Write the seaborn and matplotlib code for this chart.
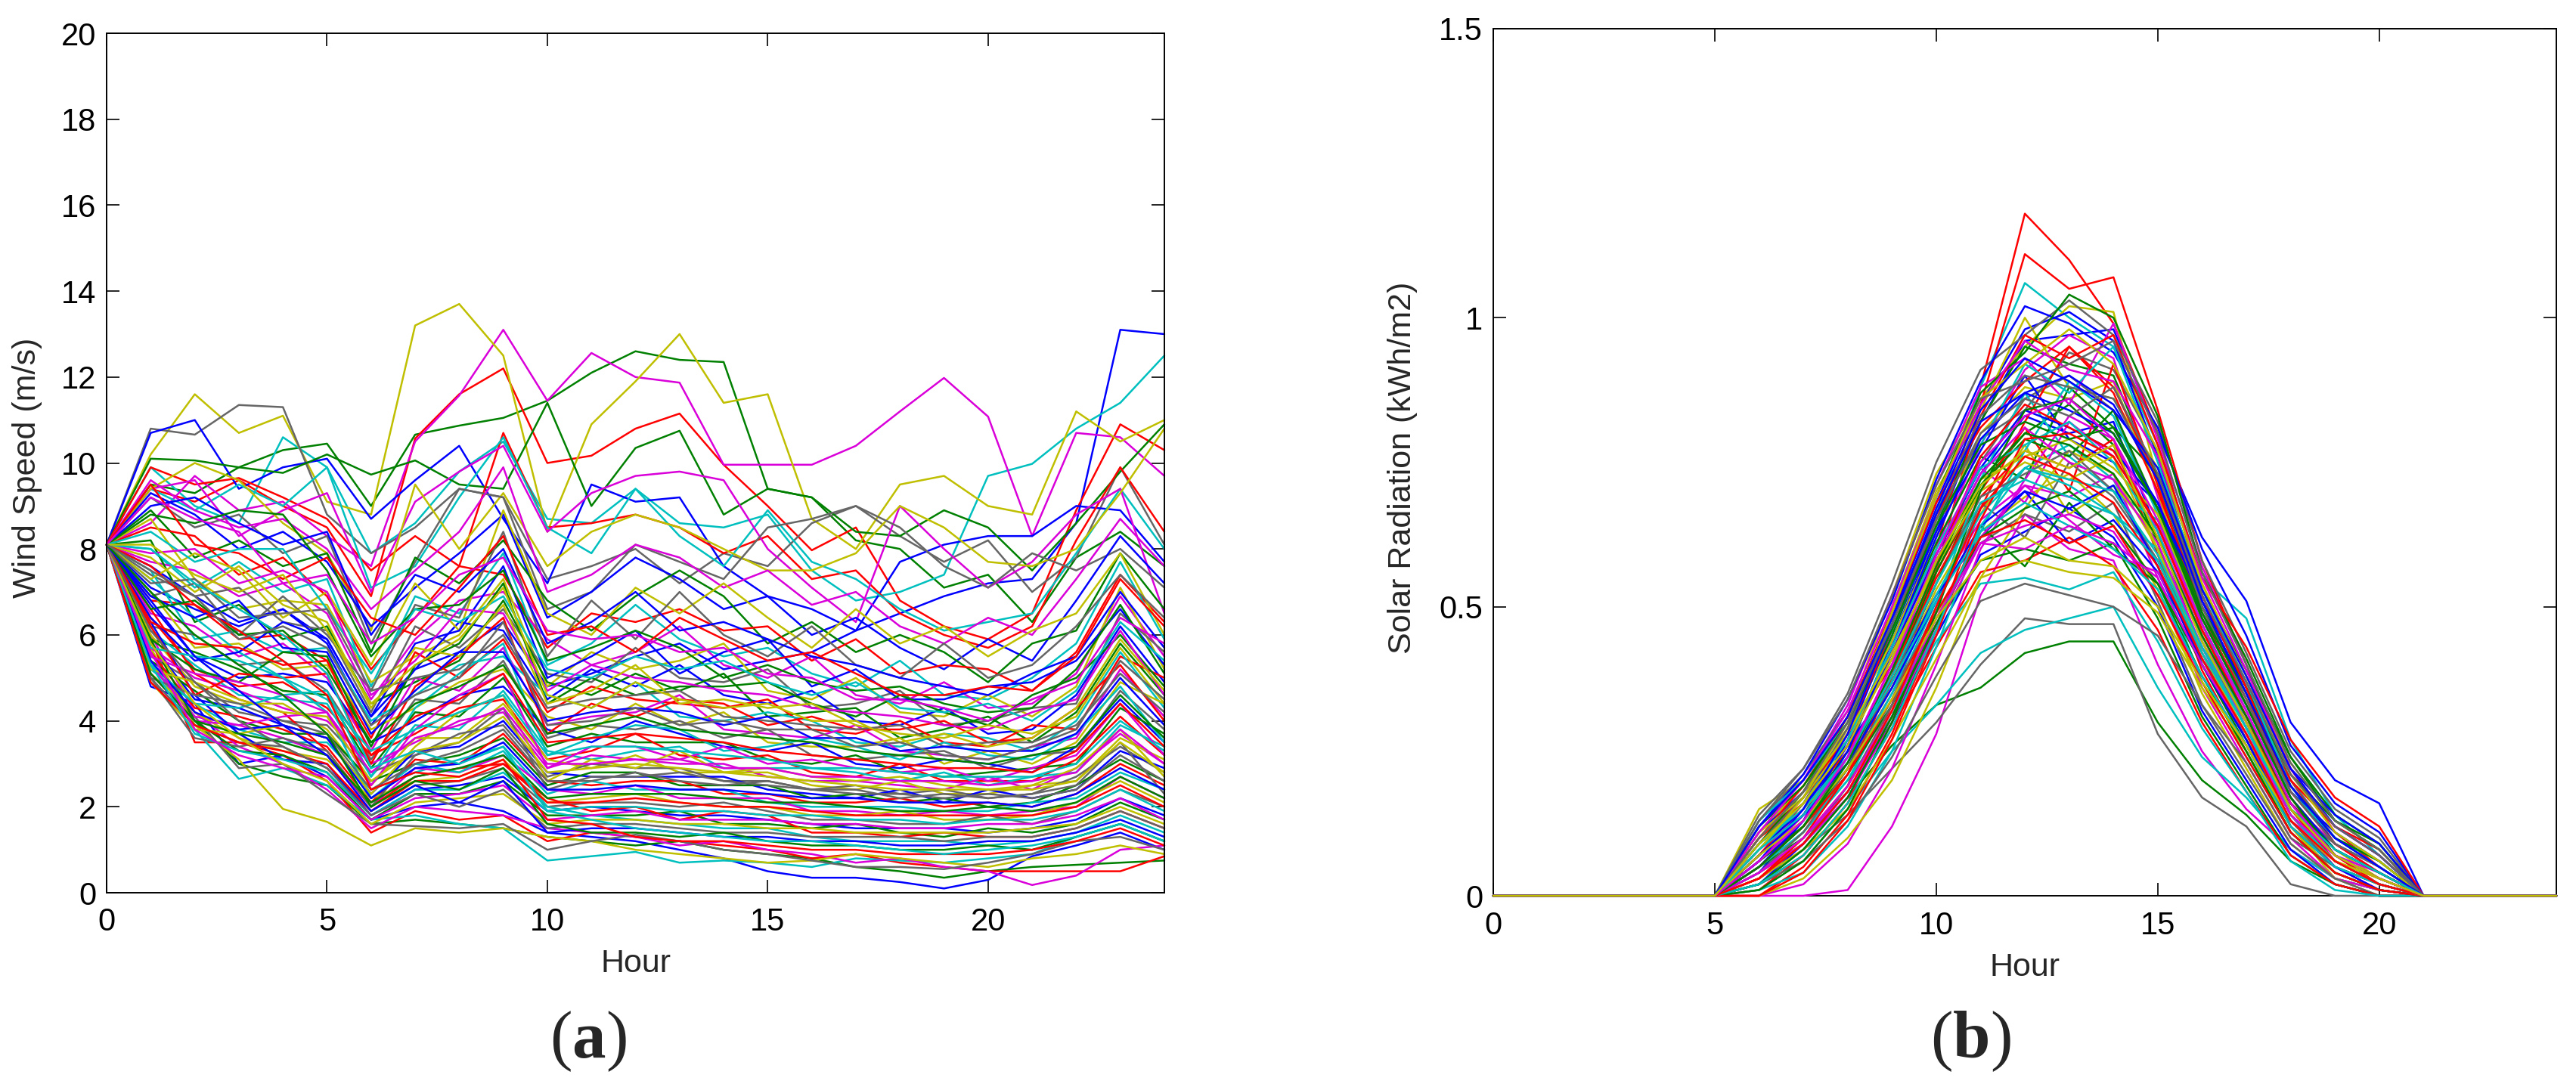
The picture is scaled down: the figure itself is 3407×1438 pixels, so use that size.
import numpy as np
import pandas as pd
import matplotlib
matplotlib.use('Agg')
import matplotlib.pyplot as plt
import seaborn as sns

# hours of the day
hours = list(range(25))
solar_hours = list(range(5, 22))   # solar is zero outside 5..21

# wind speed scenarios (m/s), hours 0..24
wind_outliers = [
    [8.1, 7.6, 6.9, 6.3, 6.6, 5.9, 4.1, 5.2, 5.6, 6.3, 4.8, 5.1, 5.5, 5.8, 5.2, 5.4, 5.6, 6.1, 6.5, 6.9, 7.2, 7.3, 8.6, 13.1, 13.0],
    [8.1, 9.5, 9.3, 9.9, 10.3, 10.45, 9.0, 10.66, 10.87, 11.05, 11.45, 12.1, 12.6, 12.4, 12.35, 9.4, 9.2, 8.2, 8.0, 7.1, 7.4, 6.3, 7.8, 8.4, 7.6],
    [8.1, 9.4, 9.1, 9.6, 9.0, 8.5, 6.9, 10.57, 11.6, 12.2, 10.0, 10.17, 10.8, 11.15, 9.96, 9.0, 7.97, 8.5, 6.8, 6.2, 5.9, 6.5, 8.9, 10.9, 10.3],
    [8.1, 9.9, 9.0, 8.6, 10.6, 9.9, 7.9, 8.6, 9.8, 10.5, 8.7, 8.6, 9.4, 8.6, 8.5, 8.8, 7.5, 6.8, 7.0, 7.4, 9.7, 9.98, 10.8, 11.4, 12.5],
    [8.1, 8.6, 9.7, 8.9, 9.1, 8.3, 7.6, 10.5, 11.57, 13.1, 11.45, 12.56, 12.0, 11.87, 9.96, 9.96, 9.96, 10.4, 11.2, 11.98, 11.08, 8.3, 10.7, 10.6, 9.7],
    [8.1, 10.2, 11.6, 10.7, 11.1, 9.1, 8.8, 13.2, 13.7, 12.5, 8.4, 10.9, 11.9, 13.0, 11.4, 11.6, 8.7, 8.0, 9.5, 9.7, 9.0, 8.8, 11.2, 10.5, 11.0],
    [8.1, 10.8, 10.66, 11.35, 11.3, 8.8, 7.9, 8.5, 9.4, 9.2, 7.3, 7.6, 8.0, 7.2, 7.9, 7.6, 8.6, 9.0, 8.3, 7.7, 8.2, 7.0, 7.8, 9.9, 8.1],
    [8.1, 10.7, 11.0, 9.4, 9.9, 10.1, 8.7, 9.6, 10.4, 8.7, 7.2, 9.5, 9.1, 9.2, 7.6, 6.9, 6.6, 6.1, 7.7, 8.1, 8.3, 8.3, 9.0, 8.9, 7.7],
    [8.1, 10.1, 10.06, 9.9, 9.77, 10.2, 9.73, 10.06, 9.5, 9.4, 11.4, 9.0, 10.35, 10.75, 8.8, 9.4, 9.2, 8.4, 8.3, 8.9, 8.5, 7.5, 8.6, 9.8, 10.9],
    [8.1, 9.9, 9.5, 9.65, 9.2, 8.7, 7.5, 8.3, 7.6, 10.7, 8.5, 8.6, 8.8, 8.5, 7.9, 8.3, 7.3, 7.5, 6.5, 6.0, 5.7, 6.2, 8.2, 9.9, 8.4],
    [8.1, 9.4, 8.9, 9.5, 9.0, 9.9, 7.1, 7.6, 9.2, 10.6, 8.5, 7.9, 9.4, 8.3, 7.6, 8.9, 7.7, 7.3, 6.6, 6.1, 6.3, 6.5, 7.9, 9.4, 8.0],
    [8.1, 9.4, 9.6, 8.3, 8.9, 9.3, 7.0, 9.1, 9.8, 10.4, 8.4, 9.3, 9.7, 9.8, 9.6, 8.0, 7.1, 6.3, 9.0, 8.0, 7.1, 7.7, 8.8, 9.4, 6.5],
    [8.1, 9.4, 10.0, 9.6, 8.6, 7.9, 6.1, 9.5, 8.0, 9.3, 7.6, 8.4, 8.8, 8.5, 8.0, 7.5, 7.5, 7.9, 9.0, 8.5, 7.7, 7.6, 8.0, 9.3, 10.8],
    [8.1, 9.2, 8.5, 8.8, 7.9, 8.3, 5.8, 7.7, 9.4, 9.2, 6.6, 7.0, 8.1, 7.7, 7.3, 8.5, 8.7, 9.0, 8.5, 7.6, 7.1, 7.9, 7.5, 8.0, 7.1],
    [8.1, 4.8, 4.4, 3.0, 3.2, 2.7, 1.7, 2.0, 2.1, 1.9, 1.4, 1.3, 1.2, 1.0, 0.8, 0.5, 0.35, 0.35, 0.25, 0.1, 0.3, 0.85, 1.1, 1.4, 1.0],
    [8.1, 5.6, 4.0, 3.0, 2.7, 2.5, 1.6, 1.7, 1.6, 1.5, 1.3, 1.2, 1.1, 1.2, 1.0, 0.9, 0.8, 0.6, 0.5, 0.35, 0.5, 0.6, 0.65, 0.7, 0.75],
    [8.1, 5.9, 3.5, 3.5, 3.2, 2.6, 1.4, 1.9, 1.7, 1.8, 1.2, 1.4, 1.3, 1.2, 1.1, 1.0, 0.8, 0.9, 0.7, 0.6, 0.5, 0.5, 0.5, 0.5, 0.85],
    [8.1, 5.4, 3.8, 2.65, 2.9, 2.5, 1.7, 1.8, 1.6, 1.5, 0.75, 0.85, 0.95, 0.7, 0.75, 0.7, 0.6, 0.8, 0.75, 0.7, 0.8, 0.9, 1.3, 1.6, 1.2],
    [8.1, 6.0, 4.2, 3.4, 3.0, 2.4, 1.5, 2.0, 1.9, 1.8, 1.5, 1.4, 1.3, 1.1, 1.2, 1.0, 0.9, 0.7, 0.8, 0.6, 0.5, 0.18, 0.4, 1.0, 1.1],
    [8.1, 5.7, 3.9, 3.1, 1.95, 1.65, 1.1, 1.5, 1.4, 1.5, 1.3, 1.2, 1.0, 0.9, 0.8, 0.7, 0.75, 0.9, 0.8, 0.7, 0.6, 0.8, 0.9, 1.1, 0.9],
    [8.1, 5.3, 4.1, 2.9, 3.0, 2.3, 1.6, 1.55, 1.5, 1.6, 1.0, 1.2, 1.35, 1.2, 1.0, 0.9, 0.75, 0.6, 0.6, 0.55, 0.7, 0.9, 1.2, 1.3, 1.0],
]

wind_band = [
    [8.1, 9.3, 8.8, 8.0, 8.4, 7.7, 6.2, 7.1, 7.9, 8.8, 6.4, 7.0, 7.8, 7.3, 6.6, 6.9, 6.0, 6.4, 5.7, 5.2, 5.9, 5.4, 6.8, 8.3, 7.2],
    [8.1, 8.9, 7.8, 8.2, 7.6, 7.9, 5.6, 7.8, 7.2, 8.2, 6.8, 6.1, 6.9, 7.5, 6.9, 5.8, 6.3, 5.6, 6.0, 5.6, 4.9, 5.8, 6.1, 7.9, 6.6],
    [8.1, 8.5, 8.3, 7.4, 7.8, 6.9, 5.2, 6.4, 7.6, 7.4, 5.7, 6.5, 6.3, 6.6, 6.1, 6.2, 5.4, 5.9, 5.1, 5.3, 5.2, 4.7, 5.6, 7.4, 6.3],
    [8.1, 8.0, 7.1, 7.7, 7.0, 7.3, 4.8, 6.9, 6.5, 7.9, 5.3, 5.8, 6.7, 5.9, 5.5, 5.7, 5.1, 4.8, 5.4, 4.6, 4.5, 5.0, 5.8, 7.7, 5.9],
    [8.1, 7.7, 7.5, 6.9, 7.2, 6.5, 4.5, 5.9, 6.8, 7.0, 5.9, 5.3, 5.6, 6.2, 5.3, 5.0, 5.5, 4.6, 4.4, 4.9, 4.3, 4.4, 5.1, 6.9, 5.5],
    [8.1, 8.7, 7.3, 6.6, 6.8, 6.7, 4.9, 5.5, 6.0, 7.3, 4.8, 5.6, 5.2, 5.4, 5.8, 4.7, 4.5, 5.0, 4.2, 4.1, 4.6, 4.1, 4.8, 7.1, 5.2],
    [8.1, 7.4, 6.9, 7.1, 6.3, 6.1, 4.2, 6.2, 5.7, 6.6, 5.1, 4.9, 5.7, 5.0, 4.9, 5.2, 4.3, 4.4, 4.7, 3.9, 4.0, 4.3, 4.4, 6.5, 5.6],
    [8.1, 7.1, 6.6, 6.2, 6.6, 5.8, 3.9, 5.2, 6.3, 6.1, 4.5, 5.2, 4.8, 5.3, 4.6, 4.4, 4.7, 4.0, 3.9, 4.3, 3.7, 3.8, 4.6, 6.2, 4.9],
    [8.1, 8.2, 6.3, 6.7, 5.9, 6.2, 4.4, 4.9, 5.4, 6.8, 4.9, 4.6, 5.1, 4.7, 5.1, 4.1, 4.2, 4.3, 3.6, 3.8, 4.1, 3.5, 4.2, 5.8, 4.6],
    [8.1, 6.8, 6.7, 5.9, 6.0, 5.4, 3.6, 5.6, 5.0, 5.9, 4.2, 4.8, 4.5, 4.4, 4.3, 4.5, 3.8, 3.7, 4.0, 3.5, 3.4, 3.9, 3.8, 5.5, 5.0],
    [8.1, 7.5, 5.9, 6.1, 5.6, 5.7, 4.0, 4.6, 5.3, 5.5, 4.6, 4.3, 4.9, 4.1, 4.0, 4.2, 4.0, 3.5, 3.4, 3.7, 3.6, 3.3, 4.0, 5.6, 4.3],
    [8.1, 6.5, 6.2, 5.5, 5.8, 5.0, 3.3, 5.0, 4.7, 5.7, 3.9, 4.1, 4.2, 4.6, 3.8, 3.7, 3.6, 3.9, 3.3, 3.2, 3.1, 3.4, 3.6, 5.2, 4.1],
    [8.1, 7.0, 5.7, 5.8, 5.2, 5.3, 3.8, 4.3, 4.9, 5.2, 4.1, 3.8, 4.4, 3.9, 4.2, 3.5, 3.4, 3.4, 3.6, 3.0, 3.3, 3.0, 3.5, 4.9, 4.4],
    [8.1, 6.2, 6.0, 5.3, 5.4, 4.7, 3.1, 4.5, 4.4, 5.4, 3.6, 3.9, 3.8, 4.0, 3.6, 3.8, 3.2, 3.1, 3.2, 3.3, 2.9, 3.2, 3.3, 4.7, 3.8],
    [8.1, 6.7, 5.5, 5.0, 5.1, 4.9, 3.5, 4.0, 4.6, 4.8, 3.8, 3.5, 4.0, 3.7, 3.4, 3.3, 3.5, 3.0, 2.9, 3.1, 3.0, 2.8, 3.4, 4.5, 3.5],
    [8.1, 5.9, 5.6, 5.2, 4.7, 4.6, 2.9, 4.2, 4.1, 5.0, 3.4, 3.7, 3.5, 3.5, 3.5, 3.1, 3.0, 3.2, 2.8, 2.7, 2.8, 2.9, 3.0, 4.3, 3.7],
    [8.1, 6.4, 5.2, 4.8, 4.9, 4.3, 3.2, 3.7, 4.3, 4.5, 3.1, 3.3, 3.7, 3.2, 3.1, 3.2, 2.8, 2.7, 3.0, 2.6, 2.6, 2.6, 3.1, 4.1, 3.2],
    [8.1, 6.1, 5.3, 4.6, 4.5, 4.4, 2.7, 3.9, 3.8, 4.7, 3.3, 3.1, 3.3, 3.4, 2.9, 2.9, 2.9, 2.8, 2.6, 2.8, 2.5, 2.7, 2.8, 3.9, 3.4],
    [8.1, 5.7, 5.0, 4.7, 4.3, 4.0, 3.0, 3.5, 4.0, 4.2, 2.9, 3.2, 3.1, 3.0, 3.0, 2.7, 2.6, 2.6, 2.5, 2.4, 2.7, 2.4, 2.9, 3.7, 3.0],
    [8.1, 6.0, 4.8, 4.4, 4.4, 3.8, 2.5, 3.6, 3.6, 4.4, 3.1, 2.9, 3.2, 2.8, 2.8, 2.8, 2.5, 2.4, 2.6, 2.3, 2.3, 2.5, 2.6, 3.6, 3.1],
    [8.1, 5.5, 4.9, 4.2, 4.0, 3.9, 2.8, 3.2, 3.7, 3.9, 2.7, 3.0, 2.9, 2.9, 2.6, 2.6, 2.4, 2.5, 2.3, 2.4, 2.2, 2.3, 2.7, 3.4, 2.8],
    [8.1, 5.8, 4.5, 4.3, 3.9, 3.6, 2.3, 3.3, 3.4, 4.0, 2.8, 2.7, 2.7, 2.7, 2.7, 2.4, 2.3, 2.2, 2.4, 2.1, 2.4, 2.2, 2.4, 3.3, 2.9],
    [8.1, 5.4, 4.7, 4.0, 3.7, 3.7, 2.6, 3.0, 3.2, 3.6, 2.5, 2.8, 2.8, 2.5, 2.5, 2.5, 2.2, 2.3, 2.1, 2.2, 2.0, 2.1, 2.5, 3.1, 2.6],
    [8.1, 5.6, 4.3, 4.1, 3.8, 3.4, 2.1, 3.1, 3.0, 3.7, 2.6, 2.5, 2.6, 2.6, 2.3, 2.3, 2.1, 2.1, 2.2, 2.0, 2.1, 2.0, 2.3, 3.0, 2.5],
    [8.1, 5.2, 4.4, 3.8, 3.5, 3.5, 2.4, 2.8, 3.1, 3.4, 2.3, 2.6, 2.4, 2.4, 2.4, 2.1, 2.0, 2.0, 2.0, 1.9, 1.9, 2.1, 2.2, 2.8, 2.4],
    [8.1, 5.3, 4.1, 3.9, 3.6, 3.2, 2.0, 2.9, 2.8, 3.2, 2.4, 2.3, 2.5, 2.2, 2.2, 2.2, 1.9, 1.9, 1.8, 1.9, 1.8, 1.9, 2.0, 2.7, 2.2],
    [8.1, 5.1, 4.2, 3.6, 3.3, 3.1, 2.2, 2.6, 2.7, 3.1, 2.1, 2.2, 2.3, 2.1, 2.0, 2.0, 1.8, 1.8, 1.9, 1.7, 1.7, 1.8, 2.1, 2.6, 2.1],
    [8.1, 5.0, 3.9, 3.5, 3.4, 2.9, 1.9, 2.5, 2.6, 2.9, 2.0, 2.1, 2.1, 2.0, 2.1, 1.9, 1.7, 1.7, 1.6, 1.6, 1.8, 1.6, 1.9, 2.4, 2.0],
    [8.1, 6.3, 4.6, 3.7, 3.1, 3.0, 1.8, 2.4, 2.5, 2.7, 1.9, 2.0, 1.9, 1.8, 1.8, 1.7, 1.6, 1.5, 1.5, 1.5, 1.4, 1.5, 1.7, 2.2, 1.8],
    [8.1, 5.9, 4.0, 3.3, 3.2, 2.8, 1.7, 2.3, 2.3, 2.6, 1.8, 1.8, 1.8, 1.9, 1.6, 1.6, 1.5, 1.6, 1.4, 1.3, 1.5, 1.4, 1.6, 2.1, 1.7],
    [8.1, 6.6, 5.1, 4.5, 4.2, 3.3, 2.0, 2.7, 2.9, 3.0, 2.2, 1.9, 2.0, 1.7, 1.9, 1.8, 1.4, 1.4, 1.3, 1.4, 1.3, 1.3, 1.5, 1.9, 1.5],
    [8.1, 7.3, 6.4, 5.6, 5.0, 4.2, 2.2, 3.0, 2.8, 3.3, 2.0, 1.8, 1.7, 1.6, 1.5, 1.5, 1.3, 1.2, 1.2, 1.2, 1.1, 1.2, 1.4, 1.8, 1.4],
    [8.1, 9.6, 8.9, 8.5, 8.7, 8.0, 6.6, 7.5, 8.4, 9.9, 7.0, 7.4, 8.1, 7.8, 7.1, 7.5, 6.7, 7.0, 6.2, 5.8, 6.4, 6.0, 7.3, 8.7, 7.6],
    [8.1, 7.3, 7.9, 7.5, 6.4, 7.0, 5.3, 7.2, 6.1, 8.9, 6.5, 6.0, 7.1, 6.5, 7.2, 6.4, 5.7, 6.6, 5.8, 6.2, 5.5, 6.1, 6.5, 7.9, 6.0],
    [8.1, 6.9, 7.2, 6.0, 6.9, 6.0, 4.7, 6.7, 6.4, 8.4, 5.5, 6.8, 5.9, 7.0, 6.0, 5.5, 6.2, 5.3, 5.0, 5.8, 5.0, 5.3, 6.2, 7.4, 6.4],
    [8.1, 6.4, 5.4, 5.6, 6.3, 5.9, 4.1, 5.8, 6.1, 7.6, 5.0, 5.5, 6.1, 5.1, 5.6, 5.9, 4.8, 5.2, 4.5, 4.5, 4.8, 4.9, 5.4, 6.6, 5.3],
    [8.1, 5.9, 5.2, 4.9, 5.6, 5.5, 3.4, 5.3, 5.8, 7.2, 4.4, 5.0, 4.6, 4.8, 4.8, 4.9, 4.4, 4.1, 4.6, 4.2, 3.9, 4.6, 5.0, 6.0, 4.8],
    [8.1, 6.2, 4.6, 5.1, 5.0, 5.1, 3.0, 4.8, 5.5, 6.4, 3.7, 4.4, 4.1, 4.5, 4.4, 3.9, 4.1, 3.8, 3.8, 4.0, 3.5, 3.6, 4.3, 5.3, 4.0],
    [8.1, 5.3, 4.4, 4.3, 4.6, 4.7, 2.7, 4.3, 5.1, 5.8, 3.2, 3.6, 3.9, 3.8, 3.3, 3.4, 3.6, 3.4, 3.1, 3.5, 3.2, 3.1, 3.7, 4.8, 3.5],
    [8.1, 5.1, 4.0, 3.9, 4.1, 4.2, 2.5, 3.8, 4.6, 5.1, 2.9, 3.4, 3.4, 3.1, 3.4, 3.0, 3.1, 2.9, 2.8, 2.9, 2.6, 2.9, 3.2, 4.4, 3.2],
    [8.1, 4.9, 3.8, 3.7, 3.9, 3.6, 2.3, 3.4, 4.2, 4.6, 2.6, 3.1, 2.9, 3.3, 2.8, 2.9, 2.7, 2.6, 2.7, 2.5, 2.4, 2.5, 2.9, 3.8, 2.7],
    [8.1, 5.0, 3.6, 3.4, 3.6, 3.3, 2.0, 3.2, 3.5, 4.3, 2.4, 2.7, 2.7, 2.8, 2.6, 2.5, 2.4, 2.4, 2.2, 2.3, 2.2, 2.3, 2.5, 3.5, 2.3],
    [8.1, 9.0, 9.2, 8.6, 8.1, 8.4, 6.0, 7.4, 7.0, 8.0, 5.8, 6.3, 7.0, 6.1, 6.3, 5.9, 5.5, 5.3, 5.0, 4.8, 4.6, 5.1, 5.5, 7.0, 5.7],
    [8.1, 8.8, 8.6, 8.9, 8.8, 7.5, 5.5, 6.6, 6.7, 7.5, 5.4, 5.7, 6.1, 5.7, 5.0, 5.3, 4.9, 4.7, 4.8, 4.4, 4.2, 4.3, 5.2, 6.7, 5.1],
    [8.1, 9.5, 8.1, 7.9, 7.3, 7.8, 6.4, 6.0, 7.1, 8.3, 6.0, 6.2, 5.6, 6.4, 5.9, 5.4, 5.6, 5.1, 4.6, 4.6, 4.8, 4.7, 5.5, 7.3, 6.2],
    [8.1, 8.4, 7.7, 8.0, 8.0, 6.6, 5.1, 6.6, 6.3, 6.9, 5.2, 5.0, 5.5, 5.2, 5.4, 4.9, 4.6, 4.9, 4.3, 4.2, 4.4, 4.0, 4.7, 6.3, 5.4],
    [8.1, 7.9, 8.0, 7.2, 7.5, 7.0, 4.6, 5.4, 6.6, 6.5, 4.7, 5.3, 5.0, 4.9, 4.7, 4.6, 4.3, 4.2, 4.1, 3.9, 3.8, 4.2, 4.5, 6.1, 4.6],
    [8.1, 7.8, 7.0, 7.6, 6.7, 6.3, 4.3, 5.7, 5.5, 6.7, 4.4, 4.7, 5.3, 4.4, 4.5, 4.3, 4.4, 3.9, 3.7, 3.6, 3.9, 3.7, 4.1, 5.7, 4.4],
    [8.1, 7.2, 7.3, 6.4, 6.5, 6.6, 4.7, 5.0, 5.2, 6.0, 4.3, 4.5, 4.6, 4.7, 4.1, 4.0, 3.9, 3.8, 3.9, 3.4, 3.5, 3.5, 3.9, 5.1, 4.2],
    [8.1, 6.9, 6.4, 6.8, 5.7, 5.6, 3.7, 4.7, 5.6, 5.6, 4.0, 4.2, 4.3, 4.2, 3.9, 4.1, 3.6, 3.6, 3.3, 3.4, 3.3, 3.3, 3.7, 5.0, 3.9],
    [8.1, 6.6, 6.8, 6.0, 6.1, 5.2, 3.5, 4.4, 4.8, 5.3, 3.7, 3.9, 4.1, 3.8, 3.7, 3.6, 3.5, 3.3, 3.2, 3.1, 3.0, 3.2, 3.4, 4.6, 3.6],
    [8.1, 6.3, 5.8, 5.7, 5.3, 5.4, 3.2, 4.1, 4.5, 5.1, 3.5, 3.6, 3.7, 3.6, 3.5, 3.3, 3.2, 3.1, 3.0, 2.9, 2.9, 2.8, 3.3, 4.4, 3.4],
    [8.1, 5.7, 5.5, 5.4, 5.0, 4.5, 3.3, 3.8, 4.2, 4.6, 3.2, 3.4, 3.4, 3.3, 3.2, 3.1, 2.9, 2.9, 2.8, 2.7, 2.7, 2.7, 3.0, 4.0, 3.3],
    [8.1, 5.5, 5.1, 4.9, 4.6, 4.2, 2.8, 3.6, 3.9, 4.3, 3.0, 3.0, 3.1, 3.1, 2.9, 2.9, 2.7, 2.7, 2.6, 2.6, 2.5, 2.6, 2.8, 3.8, 3.0],
    [8.1, 5.2, 4.9, 4.5, 4.2, 4.1, 2.6, 3.3, 3.5, 4.1, 2.8, 2.9, 3.0, 2.9, 2.8, 2.7, 2.6, 2.5, 2.4, 2.4, 2.4, 2.4, 2.6, 3.5, 2.8],
    [8.1, 5.0, 4.6, 4.4, 4.0, 3.7, 2.4, 3.0, 3.3, 3.8, 2.6, 2.6, 2.8, 2.6, 2.5, 2.6, 2.4, 2.3, 2.3, 2.2, 2.3, 2.2, 2.4, 3.2, 2.6],
    [8.1, 5.4, 4.2, 3.8, 3.9, 3.6, 2.2, 2.9, 3.0, 3.5, 2.4, 2.4, 2.5, 2.4, 2.4, 2.3, 2.2, 2.2, 2.1, 2.1, 2.1, 2.0, 2.3, 2.9, 2.4],
    [8.1, 5.1, 4.0, 3.7, 3.5, 3.2, 2.1, 2.7, 2.9, 3.2, 2.2, 2.3, 2.3, 2.3, 2.2, 2.1, 2.1, 2.0, 1.9, 1.9, 2.0, 1.9, 2.1, 2.7, 2.2],
    [8.1, 4.9, 3.9, 3.5, 3.3, 3.0, 1.9, 2.6, 2.6, 3.0, 2.1, 2.1, 2.2, 2.1, 2.0, 2.0, 1.9, 1.8, 1.8, 1.8, 1.8, 1.8, 2.0, 2.5, 2.0],
    [8.1, 5.3, 3.7, 3.3, 3.1, 2.8, 1.8, 2.4, 2.4, 2.8, 1.9, 2.0, 2.0, 1.9, 1.9, 1.8, 1.8, 1.7, 1.7, 1.6, 1.7, 1.7, 1.9, 2.4, 1.9],
    [8.1, 5.6, 3.8, 3.2, 2.9, 2.7, 1.7, 2.2, 2.3, 2.5, 1.7, 1.8, 1.9, 1.7, 1.7, 1.7, 1.6, 1.6, 1.5, 1.5, 1.6, 1.6, 1.8, 2.2, 1.7],
    [8.1, 5.8, 4.4, 3.6, 3.0, 2.6, 1.6, 2.1, 2.2, 2.3, 1.6, 1.7, 1.7, 1.6, 1.6, 1.5, 1.5, 1.4, 1.4, 1.4, 1.4, 1.5, 1.6, 2.0, 1.6],
    [8.1, 6.1, 4.9, 4.0, 3.4, 2.9, 1.8, 2.3, 2.0, 2.4, 1.5, 1.6, 1.6, 1.5, 1.4, 1.4, 1.3, 1.3, 1.3, 1.2, 1.3, 1.3, 1.5, 1.9, 1.5],
    [8.1, 6.8, 5.5, 4.7, 3.9, 3.2, 1.9, 2.5, 2.1, 2.6, 1.4, 1.5, 1.5, 1.4, 1.3, 1.3, 1.2, 1.2, 1.1, 1.1, 1.2, 1.2, 1.4, 1.7, 1.3],
    [8.1, 7.0, 6.0, 5.3, 4.6, 3.7, 2.0, 2.6, 2.4, 2.9, 1.6, 1.4, 1.4, 1.3, 1.4, 1.2, 1.1, 1.1, 1.0, 1.0, 1.1, 1.0, 1.3, 1.6, 1.2],
    [8.1, 7.6, 6.7, 6.1, 5.4, 4.6, 2.4, 2.8, 2.7, 3.1, 1.7, 1.6, 1.3, 1.2, 1.2, 1.1, 1.0, 1.0, 0.9, 0.9, 0.9, 1.0, 1.2, 1.5, 1.1],
    [8.1, 8.0, 7.2, 6.6, 6.0, 5.1, 2.9, 3.3, 3.0, 3.4, 1.9, 1.7, 1.5, 1.4, 1.3, 1.2, 1.2, 1.1, 1.0, 0.9, 1.0, 1.1, 1.3, 1.6, 1.2],
    [8.1, 9.2, 8.7, 8.4, 7.2, 7.4, 5.8, 6.4, 7.4, 7.8, 6.1, 5.9, 6.0, 5.6, 5.7, 5.1, 5.0, 4.5, 4.5, 4.3, 4.0, 4.5, 4.9, 6.4, 5.8],
    [8.1, 8.1, 7.4, 7.0, 7.4, 6.1, 4.4, 5.3, 5.9, 7.1, 4.6, 4.3, 4.9, 4.5, 4.3, 4.4, 4.0, 4.0, 3.5, 3.7, 3.4, 3.6, 4.3, 5.9, 4.7],
    [8.1, 7.5, 6.9, 5.9, 6.2, 5.7, 3.9, 4.6, 5.0, 6.3, 3.9, 4.0, 4.3, 3.9, 4.0, 3.8, 3.8, 3.4, 3.5, 3.2, 3.1, 3.4, 3.8, 5.4, 4.5],
]

# solar radiation scenarios (kWh/m2), hours 5..21
solar_outliers = [
    [0, 0.06, 0.14, 0.26, 0.44, 0.63, 0.82, 0.96, 0.97, 0.98, 0.80, 0.62, 0.51, 0.30, 0.20, 0.16, 0],
    [0, 0.04, 0.09, 0.17, 0.26, 0.33, 0.36, 0.42, 0.44, 0.44, 0.30, 0.20, 0.14, 0.06, 0.02, 0, 0],
    [0, 0.03, 0.09, 0.19, 0.38, 0.60, 0.88, 1.18, 1.10, 0.99, 0.80, 0.52, 0.36, 0.20, 0.09, 0.04, 0],
    [0, 0.05, 0.12, 0.24, 0.45, 0.66, 0.88, 1.06, 1.00, 0.95, 0.78, 0.55, 0.48, 0.27, 0.14, 0.07, 0],
    [0, 0, 0, 0.01, 0.12, 0.28, 0.52, 0.66, 0.60, 0.58, 0.40, 0.25, 0.15, 0.08, 0.03, 0.01, 0],
    [0, 0.15, 0.20, 0.31, 0.52, 0.73, 0.86, 0.95, 1.02, 1.01, 0.72, 0.45, 0.30, 0.12, 0.03, 0.01, 0],
    [0, 0.03, 0.08, 0.14, 0.22, 0.30, 0.40, 0.48, 0.47, 0.47, 0.28, 0.17, 0.12, 0.02, 0, 0, 0],
    [0, 0.10, 0.18, 0.30, 0.48, 0.68, 0.85, 0.98, 1.01, 0.96, 0.76, 0.52, 0.36, 0.19, 0.09, 0.05, 0],
    [0, 0.08, 0.16, 0.28, 0.45, 0.64, 0.82, 0.95, 0.92, 0.90, 0.72, 0.49, 0.33, 0.17, 0.08, 0.04, 0],
    [0, 0.02, 0.07, 0.16, 0.33, 0.56, 0.85, 1.11, 1.05, 1.07, 0.84, 0.58, 0.40, 0.22, 0.11, 0.05, 0],
    [0, 0.02, 0.06, 0.15, 0.25, 0.33, 0.42, 0.46, 0.48, 0.50, 0.36, 0.24, 0.17, 0.08, 0.03, 0.01, 0],
]

solar_band = [
    [0, 0.07, 0.15, 0.26, 0.42, 0.60, 0.78, 0.91, 0.97, 0.93, 0.69, 0.47, 0.31, 0.16, 0.07, 0.03, 0],
    [0, 0.11, 0.19, 0.29, 0.44, 0.62, 0.80, 0.88, 0.86, 0.89, 0.70, 0.45, 0.30, 0.15, 0.06, 0.03, 0],
    [0, 0.06, 0.13, 0.23, 0.39, 0.57, 0.75, 0.86, 0.90, 0.84, 0.66, 0.44, 0.29, 0.14, 0.06, 0.02, 0],
    [0, 0.09, 0.17, 0.27, 0.41, 0.58, 0.73, 0.83, 0.80, 0.82, 0.63, 0.42, 0.27, 0.13, 0.05, 0.02, 0],
    [0, 0.05, 0.12, 0.22, 0.37, 0.54, 0.71, 0.80, 0.85, 0.78, 0.61, 0.40, 0.26, 0.12, 0.05, 0.02, 0],
    [0, 0.10, 0.16, 0.25, 0.38, 0.55, 0.69, 0.77, 0.74, 0.79, 0.59, 0.39, 0.25, 0.11, 0.04, 0.01, 0],
    [0, 0.04, 0.11, 0.20, 0.34, 0.51, 0.67, 0.74, 0.78, 0.72, 0.57, 0.37, 0.24, 0.11, 0.04, 0.01, 0],
    [0, 0.08, 0.14, 0.24, 0.36, 0.52, 0.65, 0.71, 0.69, 0.73, 0.55, 0.36, 0.23, 0.10, 0.03, 0.01, 0],
    [0, 0.03, 0.10, 0.19, 0.32, 0.48, 0.63, 0.69, 0.73, 0.66, 0.53, 0.35, 0.22, 0.09, 0.03, 0, 0],
    [0, 0.07, 0.13, 0.22, 0.35, 0.49, 0.61, 0.66, 0.63, 0.68, 0.51, 0.33, 0.21, 0.09, 0.03, 0, 0],
    [0, 0.02, 0.09, 0.18, 0.30, 0.45, 0.59, 0.63, 0.67, 0.62, 0.50, 0.32, 0.20, 0.08, 0.02, 0, 0],
    [0, 0.06, 0.12, 0.21, 0.33, 0.47, 0.58, 0.60, 0.58, 0.61, 0.48, 0.31, 0.19, 0.07, 0.02, 0, 0],
    [0, 0.01, 0.07, 0.16, 0.29, 0.43, 0.56, 0.58, 0.62, 0.57, 0.46, 0.30, 0.18, 0.07, 0.02, 0, 0],
    [0, 0.05, 0.11, 0.20, 0.31, 0.44, 0.54, 0.55, 0.53, 0.56, 0.44, 0.29, 0.18, 0.06, 0.01, 0, 0],
    [0, 0.12, 0.20, 0.33, 0.52, 0.71, 0.88, 0.93, 0.85, 0.99, 0.79, 0.57, 0.40, 0.21, 0.12, 0.07, 0],
    [0, 0.09, 0.15, 0.29, 0.50, 0.70, 0.84, 1.00, 0.88, 0.86, 0.74, 0.54, 0.38, 0.23, 0.13, 0.08, 0],
    [0, 0.13, 0.21, 0.32, 0.47, 0.66, 0.79, 0.84, 0.94, 0.91, 0.77, 0.51, 0.37, 0.20, 0.10, 0.06, 0],
    [0, 0.04, 0.13, 0.27, 0.46, 0.63, 0.77, 0.90, 0.79, 0.75, 0.68, 0.50, 0.35, 0.18, 0.11, 0.06, 0],
    [0, 0.07, 0.14, 0.25, 0.43, 0.61, 0.76, 0.72, 0.88, 0.81, 0.73, 0.53, 0.39, 0.24, 0.14, 0.09, 0],
    [0, 0.10, 0.17, 0.28, 0.40, 0.56, 0.70, 0.81, 0.70, 0.92, 0.71, 0.48, 0.34, 0.20, 0.12, 0.08, 0],
    [0, 0.02, 0.08, 0.17, 0.31, 0.50, 0.72, 0.87, 0.76, 0.70, 0.65, 0.46, 0.33, 0.19, 0.10, 0.05, 0],
    [0, 0.06, 0.14, 0.24, 0.39, 0.59, 0.74, 0.68, 0.82, 0.76, 0.64, 0.47, 0.32, 0.16, 0.09, 0.04, 0],
    [0, 0.08, 0.15, 0.23, 0.36, 0.53, 0.66, 0.78, 0.66, 0.71, 0.62, 0.45, 0.30, 0.17, 0.08, 0.03, 0],
    [0, 0.03, 0.09, 0.19, 0.33, 0.50, 0.68, 0.62, 0.75, 0.69, 0.58, 0.43, 0.29, 0.15, 0.09, 0.05, 0],
    [0, 0.11, 0.18, 0.26, 0.37, 0.52, 0.62, 0.70, 0.61, 0.65, 0.56, 0.41, 0.28, 0.14, 0.07, 0.03, 0],
    [0, 0.05, 0.10, 0.18, 0.30, 0.46, 0.64, 0.57, 0.68, 0.60, 0.54, 0.40, 0.27, 0.13, 0.06, 0.02, 0],
    [0, 0, 0.05, 0.14, 0.28, 0.46, 0.67, 0.82, 0.95, 0.87, 0.70, 0.50, 0.34, 0.17, 0.07, 0.02, 0],
    [0, 0.01, 0.04, 0.12, 0.25, 0.43, 0.63, 0.77, 0.89, 0.83, 0.66, 0.47, 0.32, 0.15, 0.06, 0.02, 0],
    [0, 0, 0.02, 0.09, 0.22, 0.40, 0.60, 0.72, 0.83, 0.79, 0.63, 0.45, 0.30, 0.14, 0.05, 0.01, 0],
    [0, 0, 0.03, 0.10, 0.20, 0.36, 0.55, 0.67, 0.77, 0.73, 0.60, 0.42, 0.28, 0.12, 0.04, 0.01, 0],
    [0, 0.14, 0.22, 0.35, 0.54, 0.75, 0.91, 0.97, 1.03, 0.97, 0.82, 0.58, 0.42, 0.25, 0.15, 0.10, 0],
    [0, 0.12, 0.21, 0.34, 0.51, 0.72, 0.89, 1.02, 0.99, 0.94, 0.81, 0.60, 0.45, 0.26, 0.16, 0.11, 0],
    [0, 0.09, 0.18, 0.31, 0.49, 0.69, 0.87, 0.94, 1.04, 1.00, 0.83, 0.56, 0.41, 0.24, 0.13, 0.09, 0],
    [0, 0.07, 0.16, 0.28, 0.46, 0.65, 0.83, 0.97, 0.93, 0.97, 0.78, 0.55, 0.43, 0.27, 0.17, 0.12, 0],
    [0, 0.05, 0.11, 0.21, 0.35, 0.52, 0.66, 0.74, 0.71, 0.66, 0.60, 0.43, 0.31, 0.18, 0.10, 0.06, 0],
    [0, 0.04, 0.10, 0.18, 0.31, 0.46, 0.61, 0.64, 0.66, 0.63, 0.52, 0.38, 0.26, 0.13, 0.07, 0.04, 0],
    [0, 0.03, 0.08, 0.15, 0.27, 0.41, 0.55, 0.58, 0.56, 0.55, 0.49, 0.36, 0.25, 0.12, 0.06, 0.03, 0],
    [0, 0.02, 0.06, 0.13, 0.24, 0.38, 0.51, 0.54, 0.52, 0.50, 0.45, 0.33, 0.23, 0.10, 0.05, 0.02, 0],
    [0, 0.08, 0.15, 0.26, 0.42, 0.59, 0.74, 0.84, 0.81, 0.77, 0.68, 0.51, 0.37, 0.22, 0.14, 0.09, 0],
    [0, 0.06, 0.12, 0.22, 0.38, 0.56, 0.71, 0.79, 0.76, 0.84, 0.67, 0.50, 0.36, 0.21, 0.13, 0.08, 0],
    [0, 0.10, 0.19, 0.31, 0.49, 0.68, 0.81, 0.89, 0.95, 0.88, 0.72, 0.52, 0.36, 0.18, 0.09, 0.04, 0],
    [0, 0.13, 0.20, 0.30, 0.46, 0.64, 0.78, 0.92, 0.87, 0.95, 0.75, 0.53, 0.37, 0.19, 0.10, 0.05, 0],
    [0, 0.04, 0.09, 0.17, 0.30, 0.47, 0.62, 0.71, 0.65, 0.59, 0.56, 0.42, 0.30, 0.16, 0.08, 0.04, 0],
    [0, 0.11, 0.17, 0.27, 0.41, 0.58, 0.72, 0.76, 0.79, 0.74, 0.66, 0.48, 0.33, 0.17, 0.08, 0.04, 0],
    [0, 0.09, 0.17, 0.29, 0.47, 0.66, 0.83, 0.90, 0.88, 0.86, 0.72, 0.50, 0.34, 0.18, 0.09, 0.05, 0],
    [0, 0.05, 0.13, 0.25, 0.43, 0.62, 0.79, 0.87, 0.84, 0.80, 0.68, 0.48, 0.33, 0.17, 0.08, 0.04, 0],
    [0, 0.12, 0.19, 0.30, 0.46, 0.64, 0.78, 0.82, 0.79, 0.81, 0.67, 0.49, 0.35, 0.19, 0.10, 0.06, 0],
    [0, 0.03, 0.10, 0.21, 0.38, 0.57, 0.76, 0.85, 0.81, 0.77, 0.64, 0.46, 0.31, 0.16, 0.07, 0.03, 0],
    [0, 0.08, 0.16, 0.27, 0.43, 0.60, 0.74, 0.78, 0.82, 0.75, 0.63, 0.44, 0.30, 0.15, 0.07, 0.03, 0],
    [0, 0.06, 0.14, 0.24, 0.40, 0.58, 0.73, 0.81, 0.75, 0.72, 0.61, 0.43, 0.29, 0.14, 0.06, 0.02, 0],
    [0, 0.10, 0.18, 0.28, 0.42, 0.57, 0.70, 0.75, 0.72, 0.76, 0.60, 0.42, 0.28, 0.14, 0.06, 0.02, 0],
    [0, 0.04, 0.11, 0.22, 0.37, 0.54, 0.69, 0.73, 0.77, 0.70, 0.58, 0.41, 0.27, 0.13, 0.05, 0.02, 0],
    [0, 0.07, 0.14, 0.23, 0.36, 0.51, 0.64, 0.70, 0.67, 0.71, 0.57, 0.40, 0.27, 0.12, 0.05, 0.01, 0],
    [0, 0.02, 0.08, 0.17, 0.31, 0.47, 0.62, 0.67, 0.70, 0.64, 0.54, 0.38, 0.25, 0.11, 0.04, 0.01, 0],
    [0, 0.05, 0.12, 0.21, 0.34, 0.49, 0.62, 0.65, 0.61, 0.64, 0.52, 0.37, 0.24, 0.11, 0.04, 0.01, 0],
    [0, 0.09, 0.15, 0.24, 0.37, 0.51, 0.63, 0.68, 0.64, 0.60, 0.53, 0.38, 0.26, 0.12, 0.05, 0.02, 0],
    [0, 0.11, 0.20, 0.32, 0.50, 0.69, 0.85, 0.96, 0.91, 0.89, 0.76, 0.55, 0.39, 0.22, 0.12, 0.07, 0],
    [0, 0.08, 0.17, 0.30, 0.49, 0.69, 0.86, 0.92, 0.98, 0.92, 0.77, 0.54, 0.38, 0.21, 0.11, 0.06, 0],
    [0, 0.13, 0.22, 0.34, 0.52, 0.71, 0.86, 0.89, 0.92, 0.96, 0.80, 0.56, 0.40, 0.23, 0.13, 0.08, 0],
    [0, 0.06, 0.15, 0.28, 0.47, 0.67, 0.84, 0.93, 0.89, 0.84, 0.74, 0.53, 0.38, 0.22, 0.12, 0.07, 0],
    [0, 0.01, 0.06, 0.15, 0.30, 0.49, 0.70, 0.84, 0.86, 0.80, 0.67, 0.48, 0.33, 0.17, 0.07, 0.03, 0],
    [0, 0, 0.04, 0.13, 0.27, 0.45, 0.65, 0.79, 0.80, 0.76, 0.64, 0.46, 0.31, 0.15, 0.06, 0.02, 0],
    [0, 0.02, 0.07, 0.16, 0.29, 0.46, 0.64, 0.74, 0.72, 0.70, 0.59, 0.43, 0.29, 0.14, 0.06, 0.02, 0],
    [0, 0.04, 0.10, 0.19, 0.32, 0.48, 0.61, 0.60, 0.64, 0.61, 0.55, 0.40, 0.28, 0.14, 0.07, 0.03, 0],
    [0, 0.07, 0.13, 0.22, 0.34, 0.48, 0.58, 0.62, 0.58, 0.57, 0.50, 0.37, 0.26, 0.13, 0.06, 0.03, 0],
    [0, 0.10, 0.18, 0.30, 0.47, 0.65, 0.80, 0.86, 0.83, 0.88, 0.73, 0.52, 0.37, 0.21, 0.12, 0.07, 0],
    [0, 0.12, 0.20, 0.31, 0.48, 0.66, 0.82, 0.87, 0.90, 0.85, 0.72, 0.51, 0.35, 0.19, 0.10, 0.05, 0],
    [0, 0.05, 0.12, 0.23, 0.39, 0.57, 0.72, 0.80, 0.78, 0.73, 0.62, 0.45, 0.31, 0.16, 0.08, 0.04, 0],
    [0, 0.03, 0.09, 0.18, 0.32, 0.50, 0.67, 0.76, 0.73, 0.68, 0.57, 0.41, 0.28, 0.13, 0.06, 0.02, 0],
    [0, 0.08, 0.14, 0.24, 0.38, 0.54, 0.68, 0.72, 0.69, 0.66, 0.58, 0.42, 0.29, 0.15, 0.08, 0.04, 0],
    [0, 0.06, 0.13, 0.24, 0.40, 0.59, 0.75, 0.83, 0.86, 0.79, 0.65, 0.47, 0.32, 0.16, 0.07, 0.03, 0],
    [0, 0.09, 0.16, 0.26, 0.41, 0.58, 0.71, 0.77, 0.74, 0.78, 0.62, 0.44, 0.30, 0.15, 0.07, 0.03, 0],
]

# MATLAB-style line colour order
line_colors = [(0, 0, 1), (0, 0.5, 0), (1, 0, 0), (0, 0.75, 0.75),
               (0.85, 0, 0.85), (0.75, 0.75, 0), (0.4, 0.4, 0.4)]


def to_long(series_list, x_values, pad_left=0, pad_right=0):
    rows = []
    xs = list(range(x_values[0] - pad_left, x_values[-1] + pad_right + 1))
    for i, vals in enumerate(series_list):
        full = [0.0] * pad_left + list(vals) + [0.0] * pad_right
        for h, v in zip(xs, full):
            rows.append({'hour': h, 'value': v, 'scenario': 's%03d' % i})
    return pd.DataFrame(rows)


wind_df = to_long(wind_outliers + wind_band, hours)
solar_df = to_long(solar_outliers + solar_band, solar_hours, pad_left=5, pad_right=3)

sns.set_style('ticks', {'xtick.direction': 'in', 'ytick.direction': 'in'})
plt.rcParams['font.family'] = ['Liberation Sans', 'DejaVu Sans']
plt.rcParams['mathtext.fontset'] = 'custom'
plt.rcParams['mathtext.rm'] = 'Liberation Serif'
plt.rcParams['mathtext.bf'] = 'Liberation Serif:bold'

fig = plt.figure(figsize=(17.035, 7.19), dpi=200)
ax1 = fig.add_axes([0.0414, 0.1787, 0.4106, 0.7907])
ax2 = fig.add_axes([0.5797, 0.1759, 0.4127, 0.7977])


def draw(ax, df, ylim, yticks, yticklabels, ylabel, ylab_x, line_z):
    n = df['scenario'].nunique()
    pal = [line_colors[i % 7] for i in range(n)]
    sns.lineplot(data=df, x='hour', y='value', hue='scenario', palette=pal,
                 estimator=None, legend=False, linewidth=0.9, ax=ax)
    for ln in ax.lines:
        ln.set_clip_on(False)
        ln.set_zorder(line_z)
    ax.set_xlim(0, 24)
    ax.set_ylim(*ylim)
    ax.set_xticks([0, 5, 10, 15, 20])
    ax.set_yticks(yticks)
    ax.set_yticklabels(yticklabels)
    ax.tick_params(axis='both', which='both', direction='in', top=True, right=True,
                   length=6, width=0.6, labelsize=15, colors='black')
    ax.tick_params(axis='x', pad=7)
    ax.tick_params(axis='y', pad=5)
    for sp in ax.spines.values():
        sp.set_visible(True)
        sp.set_linewidth(0.7)
        sp.set_color('black')
    ax.set_xlabel('Hour', fontsize=15.5)
    ax.set_ylabel(ylabel, fontsize=15.5)
    ax.xaxis.label.set_va('center')
    ax.xaxis.set_label_coords(0.5, -0.083)
    ax.yaxis.label.set_va('center')
    ax.yaxis.set_label_coords(ylab_x, 0.494)


draw(ax1, wind_df, (0, 20), list(range(0, 21, 2)),
     [str(v) for v in range(0, 21, 2)], 'Wind Speed (m/s)', -0.075, 2)
draw(ax2, solar_df, (0, 1.5), [0, 0.5, 1, 1.5],
     ['0', '0.5', '1', '1.5'], 'Solar Radiation (kWh/m2)', -0.0853, 3)

fig.text(0.2284, 0.042, r'($\mathbf{a}$)', ha='center', va='center',
         fontsize=32, family='Liberation Serif')
fig.text(0.7650, 0.042, r'($\mathbf{b}$)', ha='center', va='center',
         fontsize=32, family='Liberation Serif')

fig.savefig('out.png', dpi=200, facecolor='white')
